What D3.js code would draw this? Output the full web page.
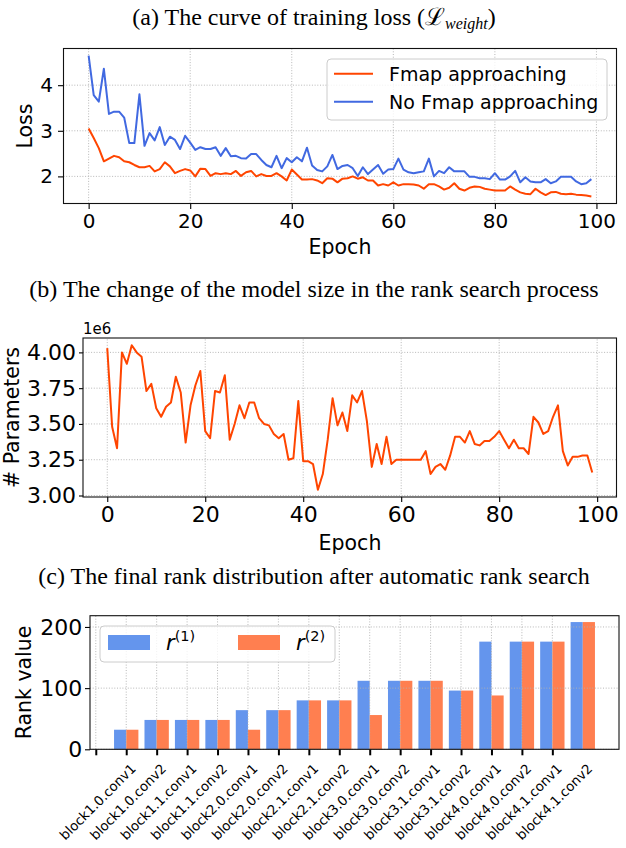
<!DOCTYPE html>
<html>
<head>
<meta charset="utf-8">
<script src="https://cdn.jsdelivr.net/npm/d3@7"></script>
<style>
body { margin: 0; background: #fff; }
svg { display: block; }
</style>
</head>
<body>
<script>
// (a) training loss per epoch
var lossFmap = [
  3.05, 2.84, 2.62, 2.33, 2.39, 2.45, 2.42, 2.33, 2.31, 2.25,
  2.20, 2.20, 2.23, 2.11, 2.16, 2.31, 2.22, 2.07, 2.12, 2.16,
  2.13, 2.00, 2.17, 2.16, 2.01, 2.07, 2.05, 2.07, 2.05, 2.12,
  2.01, 2.09, 2.12, 2.00, 2.05, 2.01, 2.01, 2.07, 2.00, 1.91,
  2.15, 2.04, 1.93, 1.93, 1.94, 1.91, 1.85, 1.96, 1.95, 1.87,
  1.95, 1.96, 2.00, 1.95, 1.98, 1.91, 1.91, 1.80, 1.83, 1.80,
  1.87, 1.80, 1.83, 1.83, 1.82, 1.80, 1.73, 1.83, 1.83, 1.78,
  1.71, 1.75, 1.85, 1.73, 1.69, 1.75, 1.78, 1.77, 1.73, 1.71,
  1.69, 1.69, 1.69, 1.78, 1.71, 1.65, 1.62, 1.61, 1.73, 1.65,
  1.59, 1.65, 1.66, 1.62, 1.61, 1.62, 1.60, 1.59, 1.58, 1.56
];
var lossNoFmap = [
  4.65, 3.78, 3.64, 4.36, 3.37, 3.42, 3.42, 3.29, 2.73, 2.73,
  3.80, 2.67, 2.95, 2.79, 3.08, 2.69, 2.87, 2.80, 2.60, 2.89,
  2.74, 2.58, 2.64, 2.60, 2.60, 2.64, 2.45, 2.62, 2.44, 2.45,
  2.40, 2.39, 2.49, 2.49, 2.36, 2.25, 2.20, 2.45, 2.18, 2.40,
  2.31, 2.42, 2.33, 2.63, 2.24, 2.14, 2.11, 2.22, 2.47, 2.16,
  2.23, 2.25, 2.18, 2.01, 2.20, 2.05, 2.15, 2.25, 2.06, 2.15,
  2.16, 2.39, 2.15, 2.09, 2.07, 2.09, 2.11, 2.39, 2.00, 2.12,
  2.07, 2.20, 2.11, 2.11, 2.11, 1.99, 1.99, 1.96, 1.96, 1.94,
  2.07, 1.93, 1.93, 2.00, 2.12, 1.87, 1.98, 1.89, 1.87, 1.87,
  1.94, 1.85, 1.89, 1.99, 1.99, 1.99, 1.89, 1.83, 1.85, 1.94
];

// (b) model size per epoch, in units of 1e6 parameters
var paramsM = [
  4.03, 3.48, 3.33, 4.00, 3.92, 4.05, 4.00, 3.97, 3.73, 3.78,
  3.61, 3.55, 3.62, 3.65, 3.83, 3.72, 3.37, 3.63, 3.77, 3.87,
  3.45, 3.40, 3.73, 3.72, 3.84, 3.39, 3.50, 3.63, 3.54, 3.65,
  3.65, 3.54, 3.50, 3.49, 3.43, 3.40, 3.43, 3.25, 3.26, 3.66,
  3.24, 3.24, 3.22, 3.04, 3.15, 3.39, 3.68, 3.49, 3.58, 3.45,
  3.70, 3.65, 3.73, 3.52, 3.20, 3.36, 3.22, 3.41, 3.22, 3.25,
  3.25, 3.25, 3.25, 3.25, 3.25, 3.31, 3.15, 3.20, 3.22, 3.18,
  3.28, 3.41, 3.41, 3.37, 3.45, 3.36, 3.35, 3.38, 3.38, 3.41,
  3.45, 3.39, 3.33, 3.39, 3.33, 3.33, 3.29, 3.55, 3.51, 3.43,
  3.45, 3.55, 3.63, 3.31, 3.21, 3.27, 3.27, 3.28, 3.28, 3.16
];

// (c) final ranks per layer
var layerNames = ["block1.0.conv1", "block1.0.conv2", "block1.1.conv1", "block1.1.conv2",
  "block2.0.conv1", "block2.0.conv2", "block2.1.conv1", "block2.1.conv2",
  "block3.0.conv1", "block3.0.conv2", "block3.1.conv1", "block3.1.conv2",
  "block4.0.conv1", "block4.0.conv2", "block4.1.conv1", "block4.1.conv2"];
var rankR1 = [32, 48, 48, 48, 64, 64, 80, 80, 112, 112, 112, 96, 176, 176, 176, 208];
var rankR2 = [32, 48, 48, 48, 32, 64, 80, 80, 56, 112, 112, 96, 88, 176, 176, 208];

var epochTicks = [0, 20, 40, 60, 80, 100];
var lossTicks = [2, 3, 4];
var paramTicks = [3.0, 3.25, 3.5, 3.75, 4.0];
var rankTicks = [0, 100, 200];

var orangeLine = "#ff4500", blueLine = "#4169e1";
var blueBar = "#6495ed", orangeBar = "#ff7f50";
var sans = "DejaVu Sans", serif = "Liberation Serif, DejaVu Serif";

var svg = d3.select("body").append("svg")
    .attr("width", 626)
    .attr("height", 848);

// matplotlib style 5% margins
function padDomain(lo, hi) {
    var r = hi - lo;
    return [lo - 0.05 * r, hi + 0.05 * r];
}

function title(y, parts) {
    var t = svg.append("text")
        .attr("x", 314).attr("y", y)
        .attr("text-anchor", "middle")
        .style("font-family", serif)
        .style("font-size", "24px");
    parts.forEach(function(p) {
        var s = t.append("tspan").text(p.text);
        if (p.sub) s.attr("dy", 4).style("font-size", "16px").style("font-style", "italic");
        if (p.back) s.attr("dy", -4);
    });
}

function grid(x, y, xt, yt) {
    var g = svg.append("g")
        .attr("stroke", "#b0b0b0")
        .attr("stroke-width", 0.9)
        .attr("stroke-dasharray", "1,1.7");
    g.selectAll(null).data(xt).enter().append("line")
        .attr("x1", function(d) { return x(d); })
        .attr("x2", function(d) { return x(d); })
        .attr("y1", y.range()[0]).attr("y2", y.range()[1]);
    g.selectAll(null).data(yt).enter().append("line")
        .attr("y1", function(d) { return y(d); })
        .attr("y2", function(d) { return y(d); })
        .attr("x1", x.range()[0]).attr("x2", x.range()[1]);
}

// o: font, ySize, yPad, xSize, xPad, xWidth
function axes(x, y, xt, yt, yFmt, xFmt, o) {
    var gx = svg.append("g")
        .attr("transform", "translate(0," + y.range()[0] + ")")
        .call(d3.axisBottom(x).tickValues(xt).tickSize(o.xSize).tickPadding(o.xPad)
            .tickSizeOuter(0).tickFormat(xFmt));
    var gy = svg.append("g")
        .attr("transform", "translate(" + x.range()[0] + ",0)")
        .call(d3.axisLeft(y).tickValues(yt).tickSize(o.ySize).tickPadding(o.yPad)
            .tickSizeOuter(0).tickFormat(yFmt));
    [gx, gy].forEach(function(g) {
        g.select(".domain").remove();
        g.selectAll(".tick line").attr("stroke", "#000").attr("stroke-width", 1.1);
        g.selectAll(".tick text")
            .style("font-family", sans)
            .style("font-size", o.font + "px")
            .attr("fill", "#000");
    });
    gx.selectAll(".tick line").attr("stroke-width", o.xWidth || 1.1);
    svg.append("rect")
        .attr("x", x.range()[0]).attr("y", y.range()[1])
        .attr("width", x.range()[1] - x.range()[0])
        .attr("height", y.range()[0] - y.range()[1])
        .attr("fill", "none")
        .attr("stroke", "#111")
        .attr("stroke-width", 1.1);
}

function label(x, y, text, size, rotate) {
    svg.append("text")
        .attr("transform", "translate(" + x + "," + y + ")" + (rotate ? " rotate(-90)" : ""))
        .attr("text-anchor", "middle")
        .style("font-family", sans)
        .style("font-size", size + "px")
        .text(text);
}

//==============================================
// (a) loss curves
title(25, [{text: "(a) The curve of training loss ("}, {text: "\u2112"},
           {text: "weight", sub: true}, {text: ")", back: true}]);

var xA = d3.scaleLinear().domain(padDomain(0, lossFmap.length - 1)).range([63.5, 616.5]);
var allLoss = lossFmap.concat(lossNoFmap);
var yA = d3.scaleLinear().domain(padDomain(d3.min(allLoss), d3.max(allLoss))).range([203.5, 48.5]);

grid(xA, yA, epochTicks, lossTicks);

var lineA = d3.line()
    .x(function(d, i) { return xA(i); })
    .y(function(d) { return yA(d); });

[[lossNoFmap, blueLine], [lossFmap, orangeLine]].forEach(function(s) {
    svg.append("path")
        .datum(s[0])
        .attr("d", lineA)
        .attr("fill", "none")
        .attr("stroke", s[1])
        .attr("stroke-width", 2)
        .attr("stroke-linejoin", "round");
});

axes(xA, yA, epochTicks, lossTicks, d3.format("d"), d3.format("d"),
     {font: 20, ySize: 5.5, yPad: 5, xSize: 5.5, xPad: 4.5});
label(340, 254, "Epoch", 20.5);
label(32, 126, "Loss", 20.5, true);

// legend
var legA = svg.append("g");
legA.append("rect")
    .attr("x", 327).attr("y", 59).attr("width", 280).attr("height", 61)
    .attr("rx", 4)
    .attr("fill", "#fff").attr("fill-opacity", 0.8)
    .attr("stroke", "#cccccc");
[["Fmap approaching", orangeLine, 73.7], ["No Fmap approaching", blueLine, 101.7]].forEach(function(l) {
    legA.append("line")
        .attr("x1", 334).attr("x2", 373).attr("y1", l[2]).attr("y2", l[2])
        .attr("stroke", l[1]).attr("stroke-width", 2);
    legA.append("text")
        .attr("x", 389).attr("y", l[2])
        .attr("dominant-baseline", "central")
        .style("font-family", sans)
        .style("font-size", "19px")
        .text(l[0]);
});

//==============================================
// (b) model size
title(296.7, [{text: "(b) The change of the model size in the rank search process"}]);

var xB = d3.scaleLinear().domain(padDomain(0, paramsM.length - 1)).range([83, 616.5]);
var yB = d3.scaleLinear().domain(padDomain(d3.min(paramsM), d3.max(paramsM))).range([497, 338]);

grid(xB, yB, epochTicks, paramTicks);

svg.append("path")
    .datum(paramsM)
    .attr("d", d3.line()
        .x(function(d, i) { return xB(i); })
        .y(function(d) { return yB(d); }))
    .attr("fill", "none")
    .attr("stroke", orangeLine)
    .attr("stroke-width", 2)
    .attr("stroke-linejoin", "round");

axes(xB, yB, epochTicks, paramTicks, d3.format(".2f"), d3.format("d"),
     {font: 22, ySize: 4, yPad: 3, xSize: 5, xPad: 4});
label(350, 550, "Epoch", 20.5);
label(18.5, 417.5, "# Parameters", 20.5, true);

svg.append("text")
    .attr("x", 83).attr("y", 334)
    .style("font-family", sans)
    .style("font-size", "15px")
    .text("1e6");

//==============================================
// (c) rank distribution
title(584.3, [{text: "(c) The final rank distribution after automatic rank search"}]);

var barW = 0.4;
var xC = d3.scaleLinear().domain(padDomain(1 - barW, layerNames.length + barW)).range([90, 619]);
var yC = d3.scaleLinear().domain([0, d3.max(rankR1.concat(rankR2)) * 1.05]).range([749.3, 615.7]);

// bars sit one slot to the right of their label
svg.append("g").selectAll("rect")
    .data(rankR1).enter().append("rect")
    .attr("x", function(d, i) { return xC(i + 1 - barW); })
    .attr("width", function(d, i) { return xC(i + 1) - xC(i + 1 - barW); })
    .attr("y", function(d) { return yC(d); })
    .attr("height", function(d) { return yC(0) - yC(d); })
    .attr("fill", blueBar);
svg.append("g").selectAll("rect")
    .data(rankR2).enter().append("rect")
    .attr("x", function(d, i) { return xC(i + 1); })
    .attr("width", function(d, i) { return xC(i + 1 + barW) - xC(i + 1); })
    .attr("y", function(d) { return yC(d); })
    .attr("height", function(d) { return yC(0) - yC(d); })
    .attr("fill", orangeBar);

var layerIdx = layerNames.map(function(d, i) { return i; });
grid(xC, yC, layerIdx, rankTicks);
axes(xC, yC, layerIdx, rankTicks, d3.format("d"), function() { return ""; },
     {font: 22, ySize: 5, yPad: 2.8, xSize: 6, xPad: 3, xWidth: 2});
label(31, 682.5, "Rank value", 20.5, true);

// rotated layer names, centred under their tick
var topY = 761;
layerNames.forEach(function(name, i) {
    var t = svg.append("text")
        .attr("text-anchor", "middle")
        .attr("dominant-baseline", "central")
        .style("font-family", sans)
        .style("font-size", "13.3px")
        .text(name);
    var bb = t.node().getBBox();
    var side = (bb.width + bb.height) / Math.SQRT2;
    t.attr("transform", "translate(" + (xC(i) + 2) + "," + (topY + side / 2) + ") rotate(-45)");
});

// legend
var legC = svg.append("g");
legC.append("rect")
    .attr("x", 100).attr("y", 626).attr("width", 235).attr("height", 36)
    .attr("rx", 4)
    .attr("fill", "#fff").attr("fill-opacity", 0.8)
    .attr("stroke", "#cccccc");
[["(1)", blueBar, 108], ["(2)", orangeBar, 238]].forEach(function(l) {
    legC.append("rect")
        .attr("x", l[2]).attr("y", 635).attr("width", 42).attr("height", 15)
        .attr("fill", l[1]);
    var t = legC.append("text")
        .attr("x", l[2] + 58).attr("y", 650)
        .style("font-family", sans)
        .style("font-size", "21px");
    t.append("tspan").style("font-style", "italic").text("r");
    t.append("tspan").attr("dy", -9).style("font-size", "14.5px").text(l[0]);
});
</script>
</body>
</html>
